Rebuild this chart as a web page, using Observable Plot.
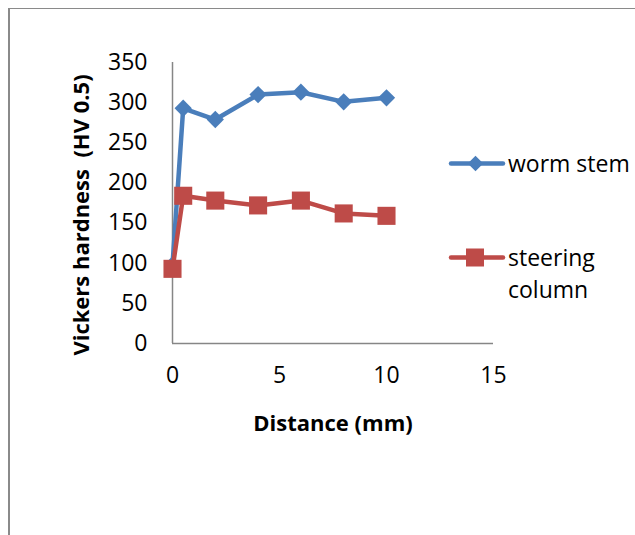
<!DOCTYPE html>
<html>
<head>
<meta charset="utf-8">
<script src="https://cdn.jsdelivr.net/npm/d3@7"></script>
<script src="https://cdn.jsdelivr.net/npm/@observablehq/plot@0.6"></script>
<style>
  html, body { margin: 0; padding: 0; background: #fff; }
  #wrap { position: relative; width: 635px; height: 535px; overflow: hidden; font-family: "Open Sans", sans-serif; }
  #frame { position: absolute; left: 8px; top: 8px; width: 800px; height: 800px; border-left: 2px solid #8a8a8a; border-top: 1px solid #8a8a8a; }
  #chart { position: absolute; left: 0; top: 0; }
  .leg { position: absolute; font-size: 23px; color: #000; line-height: 32px; }
  .leg svg { position: absolute; }
</style>
</head>
<body>
<div id="wrap">
  <div id="frame"></div>
  <div id="chart"></div>
</div>
<script>
const distance = [0, 0.5, 2, 4, 6, 8, 10];
const wormStem = [98, 293, 279, 310, 313, 301, 306];
const steeringColumn = [93, 184, 178, 172, 178, 162, 159];
const seriesNames = ["worm stem", "steering column"];
const xTicks = [0, 5, 10, 15];
const yTicks = [0, 50, 100, 150, 200, 250, 300, 350];
const xTitle = "Distance (mm)";
const yTitle = "Vickers hardness\u00a0\u00a0(HV 0.5)";
const colors = ["#4a7ebb", "#be4b48"];

const worm = distance.map((d, i) => ({x: d, y: wormStem[i]}));
const steer = distance.map((d, i) => ({x: d, y: steeringColumn[i]}));

const chart = Plot.plot({
  width: 635,
  height: 535,
  marginLeft: 172,
  marginRight: 142,
  marginTop: 62,
  marginBottom: 192,
  style: {fontFamily: "Open Sans, sans-serif", fontSize: "23px", color: "#000", background: "transparent"},
  x: {domain: [0, 15], ticks: xTicks},
  y: {domain: [0, 350], ticks: yTicks},
  marks: [
    Plot.axisY({ticks: yTicks, tickSize: 0, tickPadding: 25, label: null, fontSize: 23}),
    Plot.axisX({ticks: xTicks, tickSize: 0, tickPadding: 23, label: null, fontSize: 23}),
    Plot.ruleX([0], {stroke: "#868686", strokeWidth: 1.5}),
    Plot.ruleY([0], {stroke: "#868686", strokeWidth: 1.5}),
    Plot.line(worm, {x: "x", y: "y", stroke: colors[0], strokeWidth: 4.5}),
    Plot.dot(worm, {x: "x", y: "y", symbol: "square", r: 6.9, rotate: 45, fill: colors[0], stroke: null}),
    Plot.line(steer, {x: "x", y: "y", stroke: colors[1], strokeWidth: 4.5}),
    Plot.dot(steer, {x: "x", y: "y", symbol: "square", r: 10.2, fill: colors[1], stroke: null}),
    Plot.text([xTitle], {frameAnchor: "bottom", textAnchor: "middle", lineAnchor: "middle", dy: 80, fontWeight: "bold", fontSize: 22, fill: "#000"}),
    Plot.text([yTitle], {frameAnchor: "left", textAnchor: "middle", lineAnchor: "middle", dx: -91, dy: 12, rotate: -90, fontWeight: "bold", fontSize: 22, fill: "#000"})
  ]
});
document.getElementById("chart").appendChild(chart);

// legend
const wrap = document.getElementById("wrap");
function legendItem(top, color, kind, lines) {
  const div = document.createElement("div");
  div.className = "leg";
  div.style.left = "448px";
  div.style.top = top + "px";
  const marker = kind === "diamond"
    ? `<rect x="22" y="5" width="11" height="11" fill="${color}" transform="rotate(45 27.5 10.5)"/>`
    : `<rect x="18" y="1.5" width="18" height="18" fill="${color}"/>`;
  div.innerHTML = `<svg width="58" height="21" style="left:0;top:6px"><line x1="3" y1="10.5" x2="55" y2="10.5" stroke="${color}" stroke-width="4.5" stroke-linecap="round"/>${marker}</svg>` +
    `<div style="margin-left:60px">${lines.join("<br>")}</div>`;
  wrap.appendChild(div);
}
legendItem(147, colors[0], "diamond", [seriesNames[0]]);
legendItem(241, colors[1], "square", ["steering", "column"]);
</script>
</body>
</html>
